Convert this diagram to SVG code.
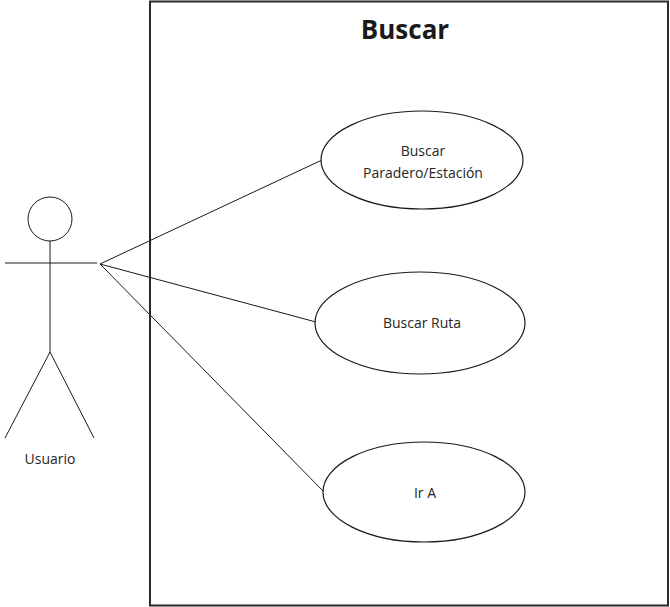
<svg xmlns="http://www.w3.org/2000/svg" width="670" height="607" viewBox="0 0 670 607">
  <style>
    .ln { stroke: #1a1a1a; stroke-width: 1; fill: none; }
    .uc { stroke: #1a1a1a; stroke-width: 1.2; fill: #ffffff; }
    .txt { font-family: "Open Sans", "Liberation Sans", sans-serif; font-size: 14px; fill: #262626; text-anchor: middle; }
    .title { font-family: "Open Sans", "Liberation Sans", sans-serif; font-size: 26px; font-weight: bold; fill: #1a1a1a; text-anchor: middle; }
  </style>
  <rect width="670" height="607" fill="#ffffff"/>

  <!-- system boundary -->
  <g id="system">
    <rect x="150" y="1.5" width="518" height="604" fill="none" stroke="#2a2a2a" stroke-width="2"/>
    <text class="title" x="405" y="39">Buscar</text>
  </g>

  <!-- associations -->
  <g id="connectors">
    <line class="ln" x1="100" y1="264" x2="322" y2="160"/>
    <line class="ln" x1="100" y1="264" x2="316" y2="322"/>
    <line class="ln" x1="100" y1="264" x2="324" y2="492"/>
  </g>

  <!-- actor -->
  <g id="usuario">
    <circle class="ln" cx="50" cy="219" r="22"/>
    <line class="ln" x1="5" y1="263" x2="97" y2="263"/>
    <line class="ln" x1="50" y1="241" x2="50" y2="352"/>
    <line class="ln" x1="50" y1="352" x2="5" y2="438"/>
    <line class="ln" x1="50" y1="352" x2="94" y2="438"/>
    <text class="txt" x="50" y="464">Usuario</text>
  </g>

  <g id="uc-paradero">
    <ellipse class="uc" cx="422" cy="160" rx="101" ry="49"/>
    <text class="txt" x="423" y="156">Buscar</text>
    <text class="txt" x="423" y="178">Paradero/Estación</text>
  </g>

  <g id="uc-ruta">
    <ellipse class="uc" cx="420" cy="323" rx="105" ry="51"/>
    <text class="txt" x="422" y="328">Buscar Ruta</text>
  </g>

  <g id="uc-ir">
    <ellipse class="uc" cx="424" cy="492" rx="101" ry="50"/>
    <text class="txt" x="425" y="498">Ir A</text>
  </g>
</svg>
